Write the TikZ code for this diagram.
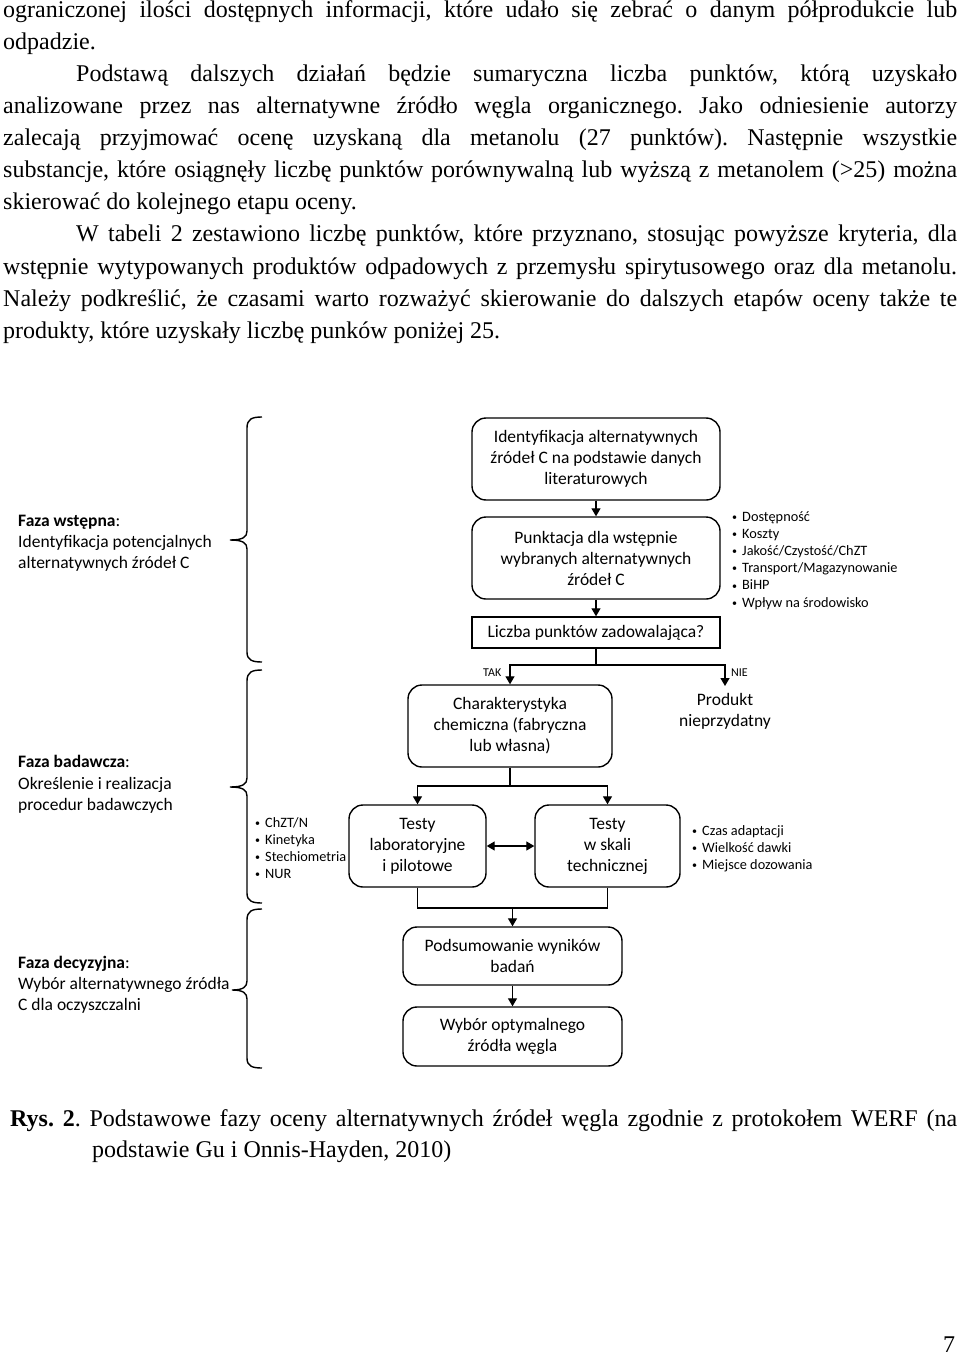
\documentclass[tikz,border=0pt]{standalone}
\usepackage{fontspec}
\setmainfont{Liberation Serif}
\newfontfamily\carl{Carlito}
\usetikzlibrary{arrows.meta}
\frenchspacing
\newcommand{\smbul}{\makebox[10pt][l]{\raisebox{0.8pt}{\fontsize{10}{10}\selectfont\textbullet}}}
\tikzset{
  box/.style={draw, line width=1.4pt, rounded corners=14pt, align=center,
    font=\carl\fontsize{17.5}{21}\selectfont, inner sep=0pt},
  qbox/.style={draw, line width=1.4pt, align=center,
    font=\carl\fontsize{17.5}{21}\selectfont, inner sep=0pt},
  plain/.style={align=center, font=\carl\fontsize{17.5}{21}\selectfont, inner sep=0pt},
  arr/.style={line width=1.3pt, -{Triangle[length=8pt,width=9pt]}},
  dbl/.style={line width=1.3pt, {Triangle[length=8pt,width=9pt]}-{Triangle[length=8pt,width=9pt]}},
  conn/.style={line width=1.3pt},
  body/.style={anchor=base west, inner sep=0pt, font=\fontsize{24}{32}\selectfont},
  lab/.style={anchor=base west, inner sep=0pt, font=\carl\fontsize{17.5}{21}\selectfont},
  li/.style={anchor=base west, inner sep=0pt, font=\carl\fontsize{14.3}{17.2}\selectfont},
  tiny/.style={anchor=base west, inner sep=0pt, font=\carl\fontsize{12}{14}\selectfont},
  brace/.style={line width=1.4pt}
}
\begin{document}
\begin{tikzpicture}[x=1pt,y=-1pt]
\fill[white] (0,0) rectangle (960,1356);
\useasboundingbox (0,0) rectangle (960,1356);

% ---------- body text ----------
\node[body] (t1) at (3,18) {\makebox[954pt][s]{ograniczonej ilości dostępnych informacji, które udało się zebrać o danym półprodukcie lub}};
\node[body] (t2) at (3,50) {odpadzie.};
\node[body] (t3) at (76,82) {\makebox[881pt][s]{Podstawą dalszych działań będzie sumaryczna liczba punktów, którą uzyskało}};
\node[body] (t4) at (3,114) {\makebox[954pt][s]{analizowane przez nas alternatywne źródło węgla organicznego. Jako odniesienie autorzy}};
\node[body] (t5) at (3,146) {\makebox[954pt][s]{zalecają przyjmować ocenę uzyskaną dla metanolu (27 punktów). Następnie wszystkie}};
\node[body] (t6) at (3,178) {\makebox[954pt][s]{substancje, które osiągnęły liczbę punktów porównywalną lub wyższą z metanolem (>25) można}};
\node[body] (t7) at (3,210) {skierować do kolejnego etapu oceny.};
\node[body] (t8) at (76,242) {\makebox[881pt][s]{W tabeli 2 zestawiono liczbę punktów, które przyznano, stosując powyższe kryteria, dla}};
\node[body] (t9) at (3,274) {\makebox[954pt][s]{wstępnie wytypowanych produktów odpadowych z przemysłu spirytusowego oraz dla metanolu.}};
\node[body] (t10) at (3,306) {\makebox[954pt][s]{Należy podkreślić, że czasami warto rozważyć skierowanie do dalszych etapów oceny także te}};
\node[body] (t11) at (3,338) {produkty, które uzyskały liczbę punków poniżej 25.};

% ---------- caption ----------
\node[body] (cap1) at (10,1126) {\makebox[947pt][s]{\textbf{Rys. 2}. Podstawowe fazy oceny alternatywnych źródeł węgla zgodnie z protokołem WERF (na}};
\node[body] (cap2) at (92,1157) {podstawie Gu i Onnis-Hayden, 2010)};
\node[body] (pg) at (943,1352) {7};

% ---------- braces ----------
\draw[brace] (262,417) .. controls (252,417) and (247,419) .. (247,428) -- (247,531)
  .. controls (247,537) and (243,540) .. (230,540)
  .. controls (243,540) and (247,543) .. (247,549) -- (247,652)
  .. controls (247,660) and (252,662) .. (262,662);
\draw[brace] (262,670) .. controls (252,670) and (247,672) .. (247,681) -- (247,778)
  .. controls (247,784) and (243,787) .. (230,787)
  .. controls (243,787) and (247,790) .. (247,796) -- (247,893)
  .. controls (247,901) and (252,903) .. (262,903);
\draw[brace] (262,909) .. controls (252,909) and (247,911) .. (247,920) -- (247,981)
  .. controls (247,987) and (243,990) .. (232,990)
  .. controls (243,990) and (247,993) .. (247,999) -- (247,1058)
  .. controls (247,1066) and (252,1068) .. (262,1068);

% ---------- phase labels ----------
\node[lab] (f1a) at (18,526) {\textbf{Faza wstępna}:};
\node[lab] (f1b) at (18,547) {Identyfikacja potencjalnych};
\node[lab] (f1c) at (18,568) {alternatywnych źródeł C};
\node[lab] (f2a) at (18,767) {\textbf{Faza badawcza}:};
\node[lab] (f2b) at (18,789) {Określenie i realizacja};
\node[lab] (f2c) at (18,810) {procedur badawczych};
\node[lab] (f3a) at (18,968) {\textbf{Faza decyzyjna}:};
\node[lab] (f3b) at (18,989) {Wybór alternatywnego źródła};
\node[lab] (f3c) at (18,1010) {C dla oczyszczalni};

% ---------- boxes ----------
\node[box, minimum width=248pt, minimum height=82pt] (A) at (596,459)
  {Identyfikacja alternatywnych\\źródeł C na podstawie danych\\literaturowych};
\node[box, minimum width=248pt, minimum height=82pt] (B) at (596,558)
  {Punktacja dla wstępnie\\wybranych alternatywnych\\źródeł C};
\node[qbox, minimum width=248pt, minimum height=31pt] (C) at (596,632.5)
  {Liczba punktów zadowalająca?};
\node[box, minimum width=204pt, minimum height=82pt] (D) at (510,726)
  {Charakterystyka\\chemiczna (fabryczna\\lub własna)};
\node[plain, anchor=north] (P) at (725,693) {Produkt\\nieprzydatny};
\node[box, minimum width=137pt, minimum height=82pt] (E) at (417.5,846)
  {Testy\\laboratoryjne\\i pilotowe};
\node[box, minimum width=145pt, minimum height=82pt] (F) at (607.5,846)
  {Testy\\w skali\\technicznej};
\node[box, minimum width=219pt, minimum height=58pt] (G) at (512.5,956)
  {Podsumowanie wyników\\badań};
\node[box, minimum width=219pt, minimum height=59pt] (H) at (512.5,1036.5)
  {Wybór optymalnego\\źródła węgla};

% ---------- connectors ----------
\draw[arr] (A) -- (B);
\draw[arr] (B) -- (C);
\coordinate (s1) at (596,665);
\coordinate (pn) at (725,686);
\draw[conn] (C.south) -- (s1);
\draw[arr] (s1) -| (D.north);
\draw[arr] (s1) -| (pn);
\node[tiny] (tak) at (483,676) {TAK};
\node[tiny] (nie) at (731,676) {NIE};
\coordinate (s2) at (510,786);
\draw[conn] (D.south) -- (s2);
\draw[arr] (s2) -| (E.north);
\draw[arr] (s2) -| (F.north);
\draw[dbl] (E.east) -- (F.west);
\coordinate (j1) at (510,908);
\draw[conn] (E.south) |- (j1) -| (F.south);
\draw[arr] (G.north |- j1) -- (G.north);
\draw[arr] (G) -- (H);

% ---------- bullet lists ----------
\foreach \t [count=\i] in {Dostępność, Koszty, {Jakość/Czystość/ChZT}, {Transport/Magazynowanie}, BiHP, Wpływ na środowisko}
  \node[li] (la\i) at (732,{521+(\i-1)*17.2}) {\smbul\t};
\foreach \t [count=\i] in {{ChZT/N}, Kinetyka, Stechiometria, NUR}
  \node[li] (lb\i) at (255,{827+(\i-1)*17}) {\smbul\t};
\foreach \t [count=\i] in {Czas adaptacji, Wielkość dawki, Miejsce dozowania}
  \node[li] (lc\i) at (692,{835+(\i-1)*17}) {\smbul\t};
\end{tikzpicture}
\end{document}
